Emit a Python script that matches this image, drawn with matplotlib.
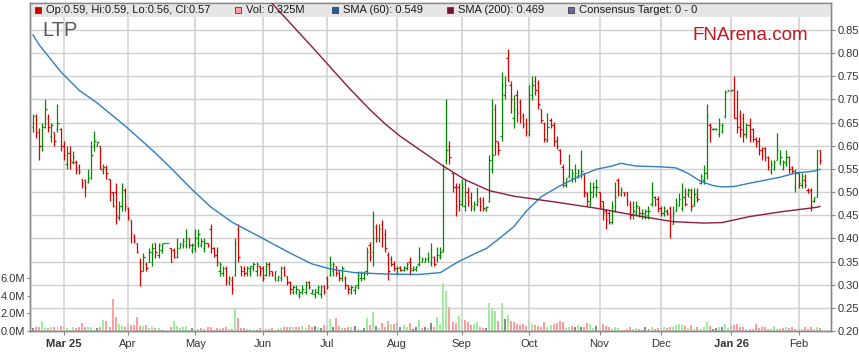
import numpy as np
import pandas as pd
import matplotlib
matplotlib.use("Agg")
import matplotlib.pyplot as plt
from matplotlib.collections import LineCollection
from matplotlib.patches import Rectangle

plt.rcParams['font.family'] = ['Liberation Sans', 'DejaVu Sans']

# trading days shown on the chart
dates = pd.bdate_range('2025-02-17', '2026-02-11')

opens = [
    .64, .665, .63, .60, .64, .66, .62, .63, .635, .635,
    .60, .56, .585, .565, .565, .555, .528, .525, .522, .53,
    .60, .60, .60, .545, .55, .529, .50, .50, .445, .47,
    .505, .465, .44, .405, .39, .35, .33, .345, .35, .35,
    .39, .365, .375, .39, .39, .38, .375, .36, .38, .385,
    .385, .40, .375, .38, .39, .385, .38, .39, .42, .38,
    .365, .33, .325, .335, .305, .31, .32, .42, .34, .335,
    .325, .33, .335, .33, .34, .335, .32, .345, .33, .315,
    .31, .315, .335, .318, .305, .285, .285, .28, .285, .285,
    .305, .282, .28, .285, .28, .298, .315, .32, .33, .34,
    .33, .315, .315, .30, .285, .288, .30, .315, .315, .33,
    .385, .37, .425, .40, .43, .41, .365, .355, .345, .325,
    .338, .331, .335, .35, .332, .333, .345, .35, .35, .355,
    .35, .36, .355, .36, .375, .57, .60, .54, .51, .51,
    .475, .47, .50, .49, .465, .475, .485, .48, .462, .48,
    .55, .68, .605, .62, .71, .79, .73, .66,
    .71, .695, .665, .65, .625, .71, .74, .735, .68, .65,
    .61, .655, .645, .61, .59, .555, .515, .535, .53, .53,
    .535, .54, .54, .495, .475, .49, .495, .50, .48, .46,
    .455, .435, .46, .525, .495, .50, .50, .475, .45, .455,
    .465, .448, .448, .45, .475, .49, .485,
    .465, .455, .46, .465, .432, .46, .47, .465, .49, .495,
    .49, .475, .49, .52, .525, .54, .645, .635, .635, .625,
    .632, .665, .719, .718, .72, .66, .665, .66, .625, .645,
    .635, .615, .61, .59, .595, .575, .545, .55, .57, .565,
    .55, .56, .575, .555, .51, .54, .515, .525, .505, .505,
    .48, .49, .59,
]
highs = [
    .669, .669, .639, .65, .70, .669, .65, .63, .691, .639,
    .61, .60, .60, .589, .569, .56, .529, .529, .549, .61,
    .632, .608, .60, .56, .558, .529, .50, .52, .48, .52,
    .509, .468, .44, .409, .39, .358, .369, .35, .38, .39,
    .39, .39, .39, .39, .39, .38, .38, .40, .39, .40,
    .42, .40, .39, .42, .42, .40, .40, .39, .431, .381,
    .381, .35, .34, .34, .319, .319, .40, .431, .34, .34,
    .34, .34, .35, .35, .34, .34, .35, .35, .33, .33,
    .319, .34, .34, .319, .309, .30, .30, .291, .30, .309,
    .309, .291, .291, .30, .30, .30, .319, .361, .35, .34,
    .33, .34, .319, .30, .30, .30, .329, .329, .329, .381,
    .392, .46, .431, .431, .44, .42, .371, .361, .352, .34,
    .34, .34, .35, .359, .34, .34, .381, .359, .359, .37,
    .39, .361, .381, .381, .56, .70, .61, .541, .52, .519,
    .529, .529, .51, .499, .481, .51, .49, .49, .47, .579,
    .70, .691, .61, .76, .751, .808, .739, .71,
    .721, .70, .67, .66, .73, .751, .751, .741, .68, .651,
    .67, .66, .651, .62, .592, .56, .531, .581, .549, .56,
    .549, .591, .541, .50, .521, .522, .529, .50, .481, .463,
    .46, .481, .521, .531, .51, .50, .50, .481, .481, .481,
    .47, .463, .463, .47, .521, .492, .491,
    .47, .47, .463, .469, .469, .487, .498, .519, .509, .509,
    .509, .509, .509, .539, .559, .691, .648, .638, .638, .659,
    .648, .72, .72, .72, .75, .72, .678, .67, .648, .659,
    .638, .618, .618, .598, .598, .578, .569, .569, .628, .59,
    .569, .59, .577, .557, .55, .541, .541, .539, .509, .509,
    .49, .59, .59,
]
lows = [
    .63, .617, .569, .589, .639, .63, .608, .60, .63, .589,
    .569, .549, .549, .56, .538, .538, .509, .49, .52, .529,
    .589, .60, .549, .538, .529, .48, .468, .43, .44, .459,
    .459, .44, .39, .39, .369, .297, .329, .329, .35, .34,
    .358, .358, .369, .39, .39, .35, .358, .358, .38, .38,
    .38, .38, .369, .37, .381, .381, .37, .381, .369, .359,
    .34, .319, .319, .30, .30, .28, .319, .35, .319, .319,
    .319, .319, .33, .319, .319, .309, .319, .319, .319, .309,
    .309, .309, .319, .30, .28, .28, .28, .271, .28, .28,
    .291, .28, .271, .28, .271, .28, .291, .319, .319, .319,
    .309, .309, .291, .28, .28, .28, .291, .309, .311, .32,
    .352, .34, .392, .392, .381, .371, .311, .34, .329, .32,
    .329, .329, .331, .32, .329, .329, .34, .349, .349, .35,
    .34, .34, .35, .355, .37, .56, .56, .50, .449, .46,
    .469, .46, .469, .46, .46, .469, .46, .46, .46, .479,
    .541, .579, .579, .61, .70, .74, .671, .639,
    .651, .648, .639, .62, .62, .698, .71, .68, .65, .608,
    .608, .639, .60, .592, .56, .51, .51, .531, .522, .522,
    .531, .531, .489, .47, .47, .489, .489, .463, .44, .42,
    .431, .431, .456, .492, .492, .492, .47, .442, .442, .449,
    .445, .442, .442, .442, .47, .47, .456,
    .449, .449, .45, .40, .43, .458, .469, .458, .469, .49,
    .458, .469, .478, .518, .518, .528, .607, .634, .634, .618,
    .628, .659, .718, .718, .659, .628, .618, .607, .616, .607,
    .607, .598, .58, .569, .568, .548, .539, .548, .569, .559,
    .548, .557, .541, .541, .50, .509, .509, .509, .498, .458,
    .478, .49, .56,
]
closes = [
    .665, .63, .60, .64, .68, .64, .645, .61, .65, .60,
    .58, .585, .57, .575, .55, .545, .52, .51, .53, .58,
    .61, .608, .55, .555, .54, .50, .47, .45, .47, .51,
    .47, .445, .41, .395, .37, .33, .36, .335, .37, .38,
    .37, .385, .388, .39, .39, .35, .36, .38, .39, .395,
    .40, .385, .385, .40, .41, .395, .39, .385, .38, .365,
    .35, .345, .335, .31, .315, .29, .39, .36, .33, .325,
    .335, .34, .345, .345, .33, .315, .34, .325, .32, .33,
    .318, .335, .32, .305, .29, .295, .29, .285, .29, .30,
    .295, .288, .29, .295, .295, .285, .295, .345, .345, .325,
    .315, .335, .30, .29, .295, .295, .32, .325, .325, .37,
    .36, .40, .40, .42, .40, .38, .33, .345, .335, .335,
    .332, .338, .345, .335, .338, .34, .36, .355, .355, .36,
    .36, .345, .365, .37, .55, .59, .575, .51, .47, .48,
    .51, .50, .48, .47, .475, .48, .47, .465, .468, .57,
    .58, .61, .59, .73, .73, .74, .70, .68,
    .67, .66, .645, .63, .71, .73, .72, .69, .655, .615,
    .64, .645, .61, .60, .57, .52, .53, .55, .54, .54,
    .545, .545, .50, .48, .50, .51, .51, .47, .455, .44,
    .436, .47, .49, .50, .505, .495, .48, .45, .46, .47,
    .455, .455, .458, .46, .50, .475, .465,
    .455, .465, .455, .445, .455, .475, .485, .49, .475, .505,
    .47, .495, .485, .535, .54, .665, .64, .638, .637, .645,
    .645, .715, .72, .72, .66, .64, .635, .625, .645, .62,
    .615, .605, .59, .58, .575, .555, .56, .565, .59, .575,
    .565, .575, .55, .545, .54, .52, .535, .515, .50, .47,
    .49, .59, .57,
]
# volume in millions of shares
volume_m = [
    0.3, 0.4, 0.4, 1.1, 0.3, 0.3, 0.4, 0.4, 0.6, 0.6,
    0.5, 0.3, 0.1, 0.4, 0.3, 0.4, 0.9, 0.4, 0.4, 0.5,
    0.1, 0.3, 0.4, 1.2, 1.1, 0.5, 3.6, 1.6, 0.8, 0.6,
    0.4, 0.9, 0.7, 0.7, 1.6, 0.6, 0.6, 0.7, 0.3, 0.4,
    0.3, 0.3, 0.1, 0.0, 0.0, 0.5, 1.1, 0.6, 0.3, 0.4,
    0.6, 0.1, 0.3, 0.2, 0.2, 0.3, 0.2, 0.4, 0.5, 0.1,
    0.3, 0.2, 0.3, 0.4, 0.2, 0.2, 2.6, 1.5, 0.3, 0.3,
    0.2, 0.2, 0.1, 0.1, 0.3, 0.2, 0.2, 0.2, 0.3, 0.1,
    0.2, 0.3, 0.5, 0.5, 0.5, 0.4, 0.5, 0.5, 0.6, 0.3,
    0.7, 0.5, 0.6, 0.4, 0.3, 0.7, 0.6, 1.3, 0.5, 1.5,
    0.6, 0.3, 0.3, 0.4, 0.5, 0.6, 0.2, 0.1, 0.3, 1.5,
    0.7, 2.1, 0.6, 0.3, 0.9, 0.4, 1.1, 0.8, 0.8, 1.0,
    0.4, 0.7, 0.5, 0.9, 0.2, 0.4, 1.2, 0.3, 0.5, 0.3,
    0.9, 0.4, 1.6, 0.8, 5.4, 4.5, 2.7, 1.0, 0.9, 1.7,
    1.4, 1.2, 1.0, 0.7, 0.8, 1.0, 0.4, 0.3, 0.3, 3.2,
    2.6, 2.3, 1.1, 3.2, 1.4, 1.8, 1.1, 1.0,
    0.75, 0.7, 0.75, 0.6, 1.4, 0.75, 0.7, 0.6, 0.4, 1.0,
    0.5, 0.7, 0.75, 0.9, 1.1, 1.0, 0.3, 0.5, 0.6, 0.4,
    0.7, 0.4, 0.5, 0.9, 0.75, 0.3, 0.6, 0.4, 0.75, 0.6,
    0.4, 0.2, 0.5, 0.3, 0.1, 0.1, 0.2, 0.4, 0.2, 0.3,
    0.2, 0.1, 0.4, 0.2, 0.5, 0.2, 0.3,
    0.3, 0.4, 0.3, 0.4, 0.45, 0.7, 0.75, 0.7, 0.6, 0.3,
    0.7, 0.2, 0.4, 0.2, 0.5, 1.0, 0.6, 0.2, 0.3, 0.4,
    0.5, 0.75, 0.3, 0.6, 0.7, 0.75, 0.5, 0.4, 0.2, 0.2,
    0.2, 0.75, 0.3, 0.5, 0.4, 0.2, 0.2, 0.6, 0.2, 0.2,
    0.3, 0.4, 0.3, 0.5, 0.2, 0.2, 0.2, 0.4, 0.2, 0.5,
    0.2, 0.4, 0.325,
]

# moving averages (bar number, value)
sma60_bar = [0, 2, 9, 15, 21, 30, 36, 40, 45, 52, 58, 65, 73, 84, 91, 97, 105, 115,
             126, 133, 139, 144, 148, 151, 157, 161, 166, 172, 178, 184, 189, 192,
             197, 202, 206, 210, 214, 218, 222, 225, 229, 234, 244, 249, 255, 257]
sma60_val = [0.839, 0.818, 0.76, 0.72, 0.692, 0.643, 0.608, 0.584, 0.552, 0.505,
             0.468, 0.435, 0.407, 0.368, 0.345, 0.334, 0.326, 0.323, 0.322, 0.326,
             0.350, 0.366, 0.378, 0.393, 0.425, 0.458, 0.49, 0.513, 0.533, 0.549,
             0.556, 0.562, 0.556, 0.555, 0.554, 0.552, 0.54, 0.523, 0.514, 0.511,
             0.512, 0.519, 0.532, 0.541, 0.545, 0.549]
sma200_bar = [77, 92, 103, 110, 115, 120, 127, 134, 141, 149, 157, 172, 185, 198,
              209, 219, 225, 234, 245, 256, 257]
sma200_val = [0.915, 0.807, 0.726, 0.678, 0.647, 0.620, 0.588, 0.556, 0.527, 0.503,
              0.491, 0.477, 0.464, 0.448, 0.436, 0.433, 0.434, 0.447, 0.458, 0.467,
              0.469]

price_ticks = [0.20, 0.25, 0.30, 0.35, 0.40, 0.45, 0.50, 0.55, 0.60, 0.65, 0.70, 0.75, 0.80, 0.85]
vol_ticks = [0, 2, 4, 6]

n = len(dates)
assert len(opens) == n and len(highs) == n and len(lows) == n and len(closes) == n and len(volume_m) == n

o = np.array(opens); h = np.array(highs); l = np.array(lows); c = np.array(closes)
x = np.arange(n)
up = c >= o

GREEN, RED = '#008a00', '#dd0000'
GRID = '#cfcfcf'

fig = plt.figure(figsize=(8.59, 3.63), dpi=100)
rect = [30 / 859, 32 / 363, 801 / 859, 328 / 363]
vax = fig.add_axes(rect)
ax = vax.twinx()

xlim = (-0.98, n - 1 + 3.6)

# month labels live on the bottom (volume) axes
month_pos = [i for i in range(1, n) if dates[i].month != dates[i - 1].month]
month_lab = []
for k, i in enumerate(month_pos):
    if k == 0 or dates[i].month == 1:
        month_lab.append(dates[i].strftime('%b %y'))
    else:
        month_lab.append(dates[i].strftime('%b'))
vax.set_xlim(*xlim)
vax.set_xticks(month_pos)
vax.set_xticklabels(month_lab)
vax.tick_params(axis='x', length=3, pad=3, labelsize=8, color='#888888', labelcolor='#333333')
for lab in vax.get_xticklabels():
    if ' ' in lab.get_text():
        lab.set_fontweight('bold')

# volume
prev = np.r_[c[0], c[:-1]]
vcol = np.where(np.abs(c - prev) < 0.004, '#8a8a8a', np.where(c > prev, '#9cf09c', '#ff9c9c'))
vax.bar(x, volume_m, width=0.65, color=vcol, linewidth=0, zorder=2)
vax.set_ylim(0, 37.0)
vax.set_yticks(vol_ticks)
vax.set_yticklabels([f'{v:.1f}M' for v in vol_ticks])
vax.tick_params(axis='y', left=True, length=2, pad=1.5, labelsize=8, color='#888888', labelcolor='#333333')

# price
ax.set_xlim(*xlim)
ax.set_ylim(0.20, 0.908)
ax.set_axisbelow(True)
ax.grid(True, axis='y', color=GRID, linewidth=1.0)
for mp in month_pos:
    ax.axvline(mp, color=GRID, linewidth=1.1, zorder=0.6, snap=True)

t = 0.45
segs, cols = [], []
for i in range(n):
    col = GREEN if up[i] else RED
    segs.append([(x[i], l[i]), (x[i], h[i])])
    segs.append([(x[i] - t, o[i]), (x[i], o[i])])
    segs.append([(x[i], c[i]), (x[i] + t, c[i])])
    cols += [col] * 3
ax.add_collection(LineCollection(segs, colors=cols, linewidths=0.9, zorder=2))

ax.plot(sma60_bar, sma60_val, color='#2f7fc1', linewidth=1.0, zorder=3)
ax.plot(sma200_bar, sma200_val, color='#8c1c3c', linewidth=1.0, zorder=3)

# legend strip
strip_h = 14 / 328
ax.add_patch(Rectangle((0, 1 - strip_h), 1, strip_h, transform=ax.transAxes,
                       facecolor='#e6e6e6', edgecolor='none', zorder=1))
ly = 1 - strip_h / 2
items = [
    (35, '#cc0000', f'Op:{o[-1]:.2f}, Hi:{h[-1]:.2f}, Lo:{l[-1]:.2f}, Cl:{c[-1]:.2f}'),
    (235, '#ff9c9c', f'Vol: {volume_m[-1]:.3f}M'),
    (332, '#1f5f9f', f'SMA (60): {sma60_val[-1]:.3f}'),
    (447, '#7a1030', f'SMA (200): {sma200_val[-1]:.3f}'),
    (568, '#6a6a9a', 'Consensus Target: 0 - 0'),
]
for px, colr, txt in items:
    xf = (px + 3 - 30) / 801
    ax.plot([xf], [ly], marker='s', markersize=4.6, markerfacecolor=colr,
            markeredgecolor='#404040', markeredgewidth=0.6, transform=ax.transAxes,
            clip_on=False, zorder=5)
    ax.text(xf + 8 / 801, ly, txt, transform=ax.transAxes, fontsize=8,
            color='#1a1a1a', va='center', ha='left', zorder=5)

ax.text(12 / 801, (331 - 36) / 328, 'LTP', transform=ax.transAxes, fontsize=14.5,
        color='#5a5a5a', va='baseline', ha='left', zorder=5)
ax.text((693 - 30) / 801, (331 - 40) / 328, 'FNArena.com', transform=ax.transAxes,
        fontsize=13.5, color='#c8141e', va='baseline', ha='left', zorder=5)

ax.set_yticks(price_ticks)
ax.set_yticklabels([f'{p:.2f}' for p in price_ticks])
ax.tick_params(axis='y', right=True, length=3, pad=1.5, labelsize=8, color='#888888', labelcolor='#333333')

for a in (ax, vax):
    for s in a.spines.values():
        s.set_color('#888888')
        s.set_linewidth(1.0)

fig.savefig('out.png', dpi=100)
